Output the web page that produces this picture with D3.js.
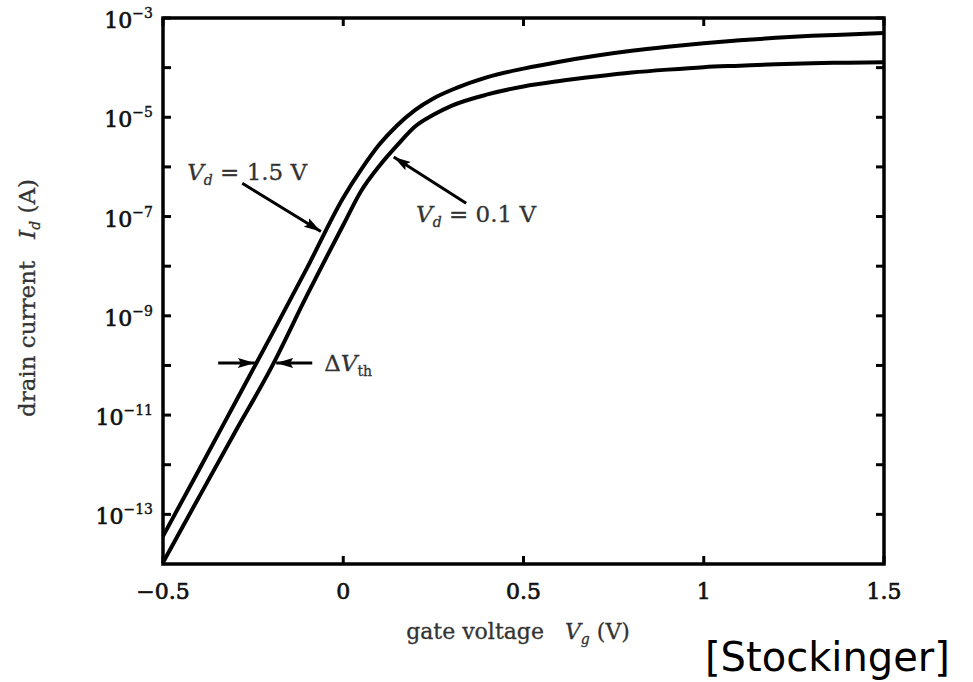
<!DOCTYPE html>
<html>
<head>
<meta charset="utf-8">
<script src="https://d3js.org/d3.v7.min.js"></script>
<style>
  body { margin: 0; background: #fff; }
  svg { display: block; }
</style>
</head>
<body>
<div id="chart"></div>
<script>
// gate voltage samples (V)
const gateVoltage = [-0.5, -0.4, -0.3, -0.2, -0.1, 0, 0.05, 0.1, 0.15, 0.2, 0.25, 0.3,
  0.4, 0.5, 0.6, 0.7, 0.8, 0.9, 1.0, 1.1, 1.2, 1.3, 1.4, 1.5];
// log10 of drain current (A)
const logIdVd15 = [-13.44, -12.1, -10.75, -9.4, -8.03, -6.62, -6.05, -5.55, -5.16, -4.85, -4.62, -4.45,
  -4.19, -4.02, -3.88, -3.76, -3.66, -3.58, -3.51, -3.45, -3.40, -3.36, -3.33, -3.30];
const logIdVd01 = [-13.97, -12.65, -11.34, -10.05, -8.58, -7.17, -6.48, -5.98, -5.56, -5.18, -4.95, -4.77,
  -4.54, -4.38, -4.27, -4.18, -4.10, -4.04, -3.99, -3.96, -3.93, -3.91, -3.90, -3.89];

const xTicks = [-0.5, 0, 0.5, 1, 1.5];
const xTickLabels = ["\u22120.5", "0", "0.5", "1", "1.5"];
const yTickExponents = [-3, -4, -5, -6, -7, -8, -9, -10, -11, -12, -13];
const yLabelExponents = [-3, -5, -7, -9, -11, -13];

const width = 973, height = 682;
const margin = {left: 163, right: 89, top: 18, bottom: 118};

const svg = d3.select("#chart").append("svg")
  .attr("width", width)
  .attr("height", height);

const x = d3.scaleLinear()
  .domain([-0.5, 1.5])
  .range([margin.left, width - margin.right]);

const y = d3.scaleLog()
  .domain([1e-14, 1e-3])
  .range([height - margin.bottom, margin.top]);

const x0 = x.range()[0], x1 = x.range()[1];
const yb = y.range()[0], yt = y.range()[1];

// arrow head
svg.append("defs").append("marker")
  .attr("id", "head")
  .attr("markerUnits", "userSpaceOnUse")
  .attr("markerWidth", 18)
  .attr("markerHeight", 12)
  .attr("refX", 17)
  .attr("refY", 6)
  .attr("orient", "auto")
  .append("path")
    .attr("d", "M0,1 L17,6 L0,11 L3,6 Z")
    .style("fill", "#000");

// ticks (inward on all four sides)
const tickLen = 8;
const ticks = svg.append("g").attr("class", "ticks")
  .style("stroke", "#000").style("stroke-width", 3);

yTickExponents.forEach(function(e) {
  const yy = y(Math.pow(10, e));
  ticks.append("line").attr("x1", x0).attr("x2", x0 + tickLen).attr("y1", yy).attr("y2", yy);
  ticks.append("line").attr("x1", x1).attr("x2", x1 - tickLen).attr("y1", yy).attr("y2", yy);
});
xTicks.forEach(function(v) {
  const xx = x(v);
  ticks.append("line").attr("x1", xx).attr("x2", xx).attr("y1", yb).attr("y2", yb - tickLen);
  ticks.append("line").attr("x1", xx).attr("x2", xx).attr("y1", yt).attr("y2", yt + tickLen);
});

// curves
const line = d3.line()
  .x(d => x(d[0]))
  .y(d => y(Math.pow(10, d[1])))
  .curve(d3.curveMonotoneX);

[logIdVd15, logIdVd01].forEach(function(series) {
  svg.append("path")
    .attr("d", line(gateVoltage.map((v, i) => [v, series[i]])))
    .style("fill", "none")
    .style("stroke", "#000")
    .style("stroke-width", 4)
    .style("stroke-linejoin", "round");
});

// frame
svg.append("rect")
  .attr("x", x0).attr("y", yt)
  .attr("width", x1 - x0).attr("height", yb - yt)
  .style("fill", "none")
  .style("stroke", "#000")
  .style("stroke-width", 3.5);

// tick labels
const labelFont = "'DejaVu Serif', serif";

svg.append("g").attr("class", "xLabels").selectAll("text")
  .data(xTicks)
  .enter()
  .append("text")
    .attr("x", d => x(d))
    .attr("y", yb + 35)
    .attr("text-anchor", "middle")
    .style("font-family", labelFont)
    .style("font-size", "22px")
    .style("fill", "#111")
    .style("stroke", "#111")
    .style("stroke-width", 0.7)
    .text((d, i) => xTickLabels[i]);

const yLab = svg.append("g").attr("class", "yLabels").selectAll("text")
  .data(yLabelExponents)
  .enter()
  .append("text")
    .attr("x", x0 - 10)
    .attr("y", d => y(Math.pow(10, d)) + 10)
    .attr("text-anchor", "end")
    .style("font-family", labelFont)
    .style("font-size", "22px")
    .style("fill", "#111")
    .style("stroke", "#111")
    .style("stroke-width", 0.7);
yLab.append("tspan").text("10");
yLab.append("tspan")
  .attr("dy", -10)
  .style("font-size", "14px")
  .style("stroke-width", 0.4)
  .text(d => "\u2212" + Math.abs(d));

// axis titles
const xt = svg.append("text")
  .attr("x", 518)
  .attr("y", 639)
  .attr("text-anchor", "middle")
  .style("font-family", labelFont)
  .style("font-size", "22px")
  .style("fill", "#333")
  .style("stroke", "#333")
  .style("stroke-width", 0.3)
  .style("white-space", "pre");
xt.append("tspan").text("gate voltage   ");
xt.append("tspan").style("font-style", "italic").text("V");
xt.append("tspan").attr("dy", 5).style("font-size", "14px").style("font-style", "italic").text("g");
xt.append("tspan").attr("dy", -5).text(" (V)");

const ytl = svg.append("text")
  .attr("transform", "translate(35," + 298 + ") rotate(-90)")
  .attr("text-anchor", "middle")
  .style("font-family", labelFont)
  .style("font-size", "23px")
  .style("fill", "#333")
  .style("stroke", "#333")
  .style("stroke-width", 0.3)
  .style("white-space", "pre");
ytl.append("tspan").text("drain current   ");
ytl.append("tspan").style("font-style", "italic").text("I");
ytl.append("tspan").attr("dy", 5).style("font-size", "14px").style("font-style", "italic").text("d");
ytl.append("tspan").attr("dy", -5).text(" (A)");

// annotations (data coordinates)
function arrow(from, to) {
  svg.append("line")
    .attr("x1", x(from[0])).attr("y1", y(Math.pow(10, from[1])))
    .attr("x2", x(to[0])).attr("y2", y(Math.pow(10, to[1])))
    .style("stroke", "#000")
    .style("stroke-width", 3)
    .attr("marker-end", "url(#head)");
}

function vdLabel(pos, value) {
  const t = svg.append("text")
    .attr("x", x(pos[0]))
    .attr("y", y(Math.pow(10, pos[1])))
    .style("font-family", labelFont)
    .style("font-size", "23px")
    .style("fill", "#333")
    .style("stroke", "#333")
    .style("stroke-width", 0.3);
  t.append("tspan").style("font-style", "italic").text("V");
  t.append("tspan").attr("dy", 5).style("font-size", "14px").style("font-style", "italic").text("d");
  t.append("tspan").attr("dy", -5).text(" = " + value + " V");
}

vdLabel([-0.433, -6.27], "1.5");
arrow([-0.28, -6.33], [-0.062, -7.3]);

vdLabel([0.202, -7.11], "0.1");
arrow([0.341, -6.73], [0.14, -5.8]);

arrow([-0.347, -9.95], [-0.245, -9.95]);
arrow([-0.086, -9.95], [-0.186, -9.95]);

const dv = svg.append("text")
  .attr("x", x(-0.053))
  .attr("y", y(Math.pow(10, -10.12)))
  .style("font-family", labelFont)
  .style("font-size", "23px")
  .style("fill", "#333")
  .style("stroke", "#333")
  .style("stroke-width", 0.3);
dv.append("tspan").text("\u0394");
dv.append("tspan").style("font-style", "italic").text("V");
dv.append("tspan").attr("dy", 5).style("font-size", "14px").text("th");

// source tag
svg.append("text")
  .attr("x", 705)
  .attr("y", 671)
  .style("font-family", "'DejaVu Sans', sans-serif")
  .style("font-size", "40px")
  .style("fill", "#000")
  .text("[Stockinger]");
</script>
</body>
</html>
